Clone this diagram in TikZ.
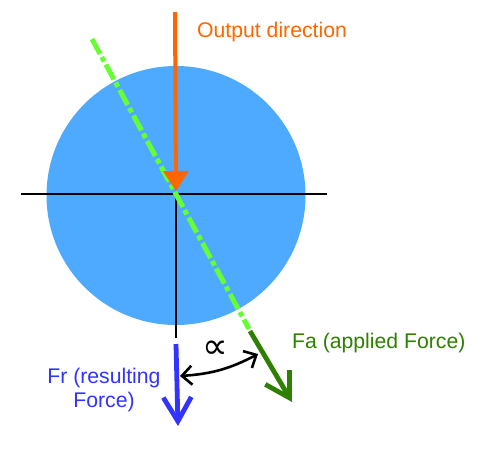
\documentclass[tikz,border=0pt]{standalone}
\usepackage{fontspec}
\setmainfont{Liberation Sans}
\newfontfamily\symfont{DejaVu Sans}
\usetikzlibrary{arrows.meta}

\definecolor{discblue}{HTML}{4DAAFF}
\definecolor{outorange}{HTML}{FF6600}
\definecolor{axisgreen}{HTML}{66FF33}
\definecolor{forcegreen}{HTML}{2E8000}
\definecolor{forceblue}{HTML}{3333FF}

\tikzset{
  axisline/.style={line width=2.6pt, black},
  axisdash/.style={line width=5pt, axisgreen, dash pattern=on 17pt off 3.5pt on 5pt off 3.5pt},
  forcearrow/.style={line width=4.8pt, -{Straight Barb[length=24pt,width=28pt]}},
  lbl/.style={font=\fontsize{21.2}{24}\selectfont, inner sep=0pt}
}

\begin{document}
\begin{tikzpicture}[x=1pt, y=-1pt]
  \useasboundingbox (0,0) rectangle (478,450);
  % disc and axes
  \node[circle, fill=discblue, minimum size=259pt, inner sep=0pt] (disc) at (176,195.5) {};
  \coordinate (centre) at (176,194);
  \coordinate (hleft) at (21,194);
  \coordinate (hright) at (327,194);
  \coordinate (vbot) at (176,338);
  \draw[axisline] (hleft) -- (hright);
  \draw[axisline] (centre) -- (vbot);
  % applied force axis
  \coordinate (axtop) at (92,39);
  \coordinate (axbot) at (249,329);
  \draw[axisdash] (axtop) -- (axbot);
  % output direction
  \coordinate (outstart) at (175,12);
  \coordinate (outtip) at (176,191);
  \draw[outorange, line width=4pt, -{Triangle[length=20pt,width=25pt]}] (outstart) -- (outtip);
  \node[lbl, outorange, anchor=base west] (outtext) at (197,37.7) {Output direction};
  % forces
  \coordinate (frstart) at (176,344);
  \coordinate (frtip) at (178,426);
  \draw[forcearrow, forceblue] (frstart) -- (frtip);
  \coordinate (fastart) at (250,331);
  \coordinate (fatip) at (292,402);
  \draw[forcearrow, forcegreen] (fastart) -- (fatip);
  \node[lbl, forcegreen, anchor=base west] (fatext) at (292,348) {Fa (applied Force)};
  \node[lbl, forceblue, align=center, anchor=north] (frtext) at (104,368) {Fr (resulting\\Force)};
  % angle
  \coordinate (angleft) at (180,376);
  \coordinate (angright) at (258,354);
  \draw[line width=2.6pt, {Straight Barb[length=10pt,width=19pt]}-{Straight Barb[length=10pt,width=19pt]}] (angleft) to[bend right=12] (angright);
  \node[inner sep=0pt, font=\symfont\fontsize{36}{38}\selectfont] (angtext) at (215,350) {∝};
\end{tikzpicture}
\end{document}
